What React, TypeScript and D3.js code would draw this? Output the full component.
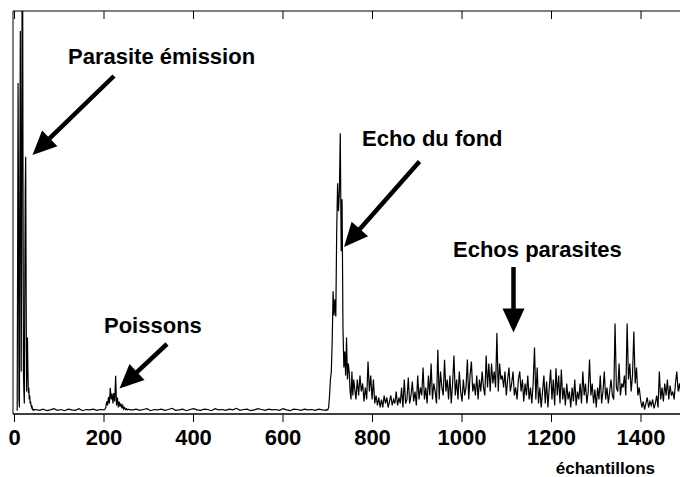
import React from "react";
import * as d3 from "d3";

// ---- data (amplitude, arbitrary units 0..100; sample index = start + i*step) ----
const emissionStart = 6, emissionStep = 1;
const emission = [0.2, 40, 82, 50, 3, 1, 60, 95, 60, 10, 40, 110, 120, 60, 10, 5, 2, 30, 55, 63.6, 30, 5, 12, 18.5, 10, 4.6, 6, 3, 4, 2, 2.5, 1.5, 1.1, 1.5, 0.6, 0.4, 0.5, 0.3, 0.4];

const quiet1Start = 48, quiet1Step = 8;
const quiet1 = [0.5, 0.3, 0.6, 0.2, 0.4, 0.7, 0.3, 0.5, 0.2, 0.6, 0.4, 0.3, 0.7, 0.2, 0.5, 0.4, 0.6, 0.3, 0.5];

const fishStart = 200, fishStep = 2;
const fish = [0.4, 0.6, 1, 2.5, 1.5, 3.6, 2, 5.9, 3, 4.5, 2, 4.6, 2.5, 8.9, 1.5, 3.5, 1, 2.5, 1.2, 2, 0.8, 1.5, 0.6, 1, 0.5, 0.7, 0.4, 0.6, 0.5, 0.4];

const quiet2Start = 264, quiet2Step = 8;
const quiet2 = [0.4, 0.6, 0.3, 0.5, 0.7, 0.2, 0.5, 0.4, 0.6, 0.3, 0.5, 0.8, 0.3, 0.4, 0.6, 0.2, 0.5, 0.7, 0.4, 0.3,
  0.6, 0.5, 0.2, 0.7, 0.4, 0.5, 0.3, 0.6, 0.4, 0.8, 0.3, 0.5, 0.6, 0.2, 0.4, 0.7, 0.5, 0.3, 0.6, 0.4,
  0.5, 0.3, 0.7, 0.4, 0.2, 0.6, 0.5, 0.3, 0.6, 0.4, 0.5, 0.3, 0.6, 0.4];

const echoStart = 696, echoStep = 2;
const bottomEcho = [0.3, 0.5, 0.4, 1.0, 4, 8, 10, 18, 30, 24, 28, 23.7, 45, 57, 50, 55, 69.5, 40, 53, 21, 11, 15, 9, 18.5, 8, 12, 9.7, 5, 3, 10, 4, 8];

const reverbStart = 760, reverbStep = 3;
const reverb = [
  6, 3, 8, 4, 9, 5, 7, 2.5, 6, 3,
  12.5, 5, 9, 3, 8, 2, 4, 1.5, 3.5, 1,
  3, 1, 4, 2, 3.5, 1, 2.5, 4, 1.5, 3,
  2, 5, 1.5, 3.5, 2, 6, 1, 8, 2, 3,
  8.5, 2, 4, 7.5, 2.5, 5, 1.5, 9, 3, 6,
  4, 11, 3, 6, 2, 9, 4, 12, 3, 7,
  5, 2, 15.4, 3, 10, 6, 4, 12.9, 5, 8,
  3, 9, 2, 7, 14, 4, 8, 3, 10, 5,
  2.5, 8, 4, 6, 13, 3, 9, 12.5, 5, 7,
  4, 9, 3, 8, 5, 10, 6, 4, 14, 6,
  12, 5, 12, 7, 10, 6, 19.6, 5, 12, 8,
  9, 6, 10, 4, 8, 11, 5, 7, 10, 4,
  6, 3, 8, 10, 5, 8, 2.5, 7, 4, 9,
  3, 6, 2, 7, 16, 3, 11, 2, 6, 1,
  5, 9, 2, 7.5, 1, 6, 10.5, 3, 8, 1.5,
  10.8, 4, 9, 2, 10.5, 3, 6, 1.5, 7, 3,
  5, 1, 6, 2.5, 8, 1.5, 5, 3, 7, 2,
  10, 4, 7, 2, 5, 13, 4, 7, 2, 5.5,
  1, 6, 3, 9, 2, 5, 10, 3, 6, 2,
  5, 8, 4, 3, 22, 6, 5, 12, 4, 7,
  6, 9, 4, 22, 8, 12, 5, 9, 20, 7,
  11, 4, 6, 3, 1, 2.5, 0.5, 2, 3.5, 1,
  2.5, 1.5, 3, 0.8, 2, 4, 1, 10, 3, 6,
  2.5, 7, 4, 8, 3, 6.5, 4, 5, 3, 7,
  10, 5, 7, 4,
];

const xTicks = [0, 200, 400, 600, 800, 1000, 1200, 1400];

const annotations = [
  { text: "Parasite émission", x: 68, y: 64, from: [114, 76], to: [32.5, 155] },
  { text: "Poissons", x: 104, y: 333, from: [167, 344], to: [119.5, 388.5] },
  { text: "Echo du fond", x: 362, y: 146, from: [419.5, 161.5], to: [344, 247] },
  { text: "Echos parasites", x: 453, y: 257, from: [513.5, 267], to: [513.5, 332.5] },
];

type Pt = { s: number; v: number };
function seg(start: number, step: number, vals: number[]): Pt[] {
  return vals.map((v, i) => ({ s: start + i * step, v }));
}

const series: Pt[] = [
  ...seg(emissionStart, emissionStep, emission),
  ...seg(quiet1Start, quiet1Step, quiet1),
  ...seg(fishStart, fishStep, fish),
  ...seg(quiet2Start, quiet2Step, quiet2),
  ...seg(echoStart, echoStep, bottomEcho),
  ...seg(reverbStart, reverbStep, reverb),
];

const W = 680, H = 477;
const left = 13, top = 11, axisY = 414, right = 680;
const x = d3.scaleLinear().domain([0, 1400]).range([14.5, 641]);
const y = d3.scaleLinear().domain([0, 100]).range([411.5, 11]);
const FONT = "'Liberation Sans', Arial, Helvetica, sans-serif";

function arrowHead(from: number[], to: number[], L = 24, Wd = 22) {
  const dx = to[0] - from[0], dy = to[1] - from[1];
  const len = Math.hypot(dx, dy);
  const ux = dx / len, uy = dy / len;
  const bx = to[0] - ux * L, by = to[1] - uy * L;
  const px = -uy, py = ux;
  return {
    points: `${to[0]},${to[1]} ${bx + px * Wd / 2},${by + py * Wd / 2} ${bx - px * Wd / 2},${by - py * Wd / 2}`,
    shaftEnd: [to[0] - ux * (L - 2), to[1] - uy * (L - 2)],
  };
}

export default function App() {
  const line = d3.line<Pt>().x((d) => x(d.s)).y((d) => y(d.v));
  return (
    <svg width={W} height={H} style={{ position: "absolute", left: 0, top: 0, background: "#fff" }}>
      <defs>
        <clipPath id="plot">
          <rect x={left} y={top} width={right - left} height={axisY - top} />
        </clipPath>
      </defs>
      <rect x={0} y={0} width={W} height={H} fill="#fff" />
      <path d={line(series) || ""} fill="none" stroke="#000" strokeWidth={1.2} strokeLinejoin="miter" clipPath="url(#plot)" />
      {/* frame */}
      <line x1={left} x2={right} y1={top} y2={top} stroke="#000" strokeWidth={1} />
      <line x1={left} x2={left} y1={top} y2={axisY} stroke="#000" strokeWidth={1} />
      <line x1={left} x2={right} y1={axisY} y2={axisY} stroke="#000" strokeWidth={1.5} />
      {xTicks.map((t) => (
        <g key={t}>
          <line x1={x(t)} x2={x(t)} y1={axisY} y2={axisY + 8} stroke="#000" strokeWidth={1} />
          <line x1={x(t)} x2={x(t)} y1={top} y2={top + 8} stroke="#000" strokeWidth={1} />
          <text x={x(t)} y={445} textAnchor="middle" fontFamily={FONT} fontWeight="bold" fontSize={22}>
            {t}
          </text>
        </g>
      ))}
      <text x={655} y={474} textAnchor="end" fontFamily={FONT} fontWeight="bold" fontSize={17}>
        échantillons
      </text>
      {annotations.map((a) => {
        const h = arrowHead(a.from, a.to);
        return (
          <g key={a.text}>
            <text x={a.x} y={a.y} fontFamily={FONT} fontWeight="bold" fontSize={22}>
              {a.text}
            </text>
            <line x1={a.from[0]} y1={a.from[1]} x2={h.shaftEnd[0]} y2={h.shaftEnd[1]} stroke="#000" strokeWidth={4.5} />
            <polygon points={h.points} fill="#000" />
          </g>
        );
      })}
    </svg>
  );
}
